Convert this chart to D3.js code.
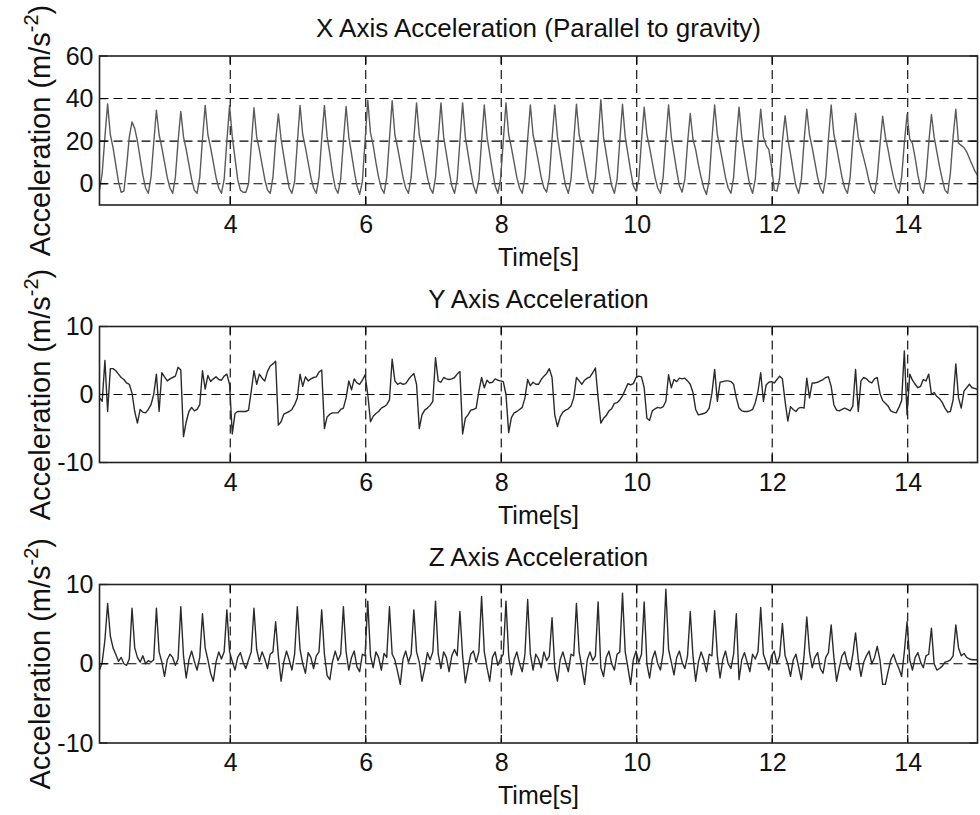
<!DOCTYPE html>
<html>
<head>
<meta charset="utf-8">
<script src="https://cdn.jsdelivr.net/npm/d3@7"></script>
<style>
  body { margin: 0; background: #fff; }
  svg text { font-family: "Liberation Sans", Arial, Helvetica, sans-serif; fill: #111; }
</style>
</head>
<body>
<svg id="chart" width="980" height="815"></svg>
<script>
// Accelerometer record sampled every 0.04 s starting at 2.07 s
const startTime = 2.07;
const sampleStep = 0.04;

// X axis (parallel to gravity), m/s^2
const xAccel = [
  -3, 5, 22, 37.5,
  23, 17, 9, 1, -4, -3.5, 8, 22, 29,
  26, 20, 12, 4, -2, -4.5, 3, 19, 34.5,
  23, 17, 10, 3, -2, -4.5, 3, 20, 34,
  22, 16, 9, 2, -3, -4.5, 3, 21, 36.8,
  23, 17, 10, 3, -2, -4.5, 2, 20, 36.8,
  22, 12, 2, -3, -4, -4, 0, 18, 35.7,
  22, 16, 9, 2, -3, -4.5, 3, 20, 32.8,
  21, 13, 5, -2, -4.5, 1, 19, 36.8,
  23, 17, 10, 3, -2, -4.5, 3, 21, 36.8,
  22, 14, 5, -2, -4.5, 2, 20, 36.3,
  22, 14, 6, -1, -5, 1, 20, 39.2,
  24, 18, 10, 3, -2, -4.5, 3, 21, 39,
  23, 17, 10, 3, -2, -4.5, 3, 21, 38,
  23, 17, 10, 3, -2, -4.5, 3, 21, 38,
  22, 14, 6, -1, -4.5, 2, 20, 38,
  22, 14, 6, -1, -4.5, 2, 20, 37,
  22, 14, 6, -1, -4.5, 2, 20, 38,
  23, 17, 10, 3, -2, -4.5, 3, 21, 37,
  23, 17, 10, 3, -2, -4, 3, 21, 37,
  22, 14, 6, -1, -4.5, 2, 20, 37.3,
  23, 17, 10, 3, -2, -4.5, 3, 21, 39.5,
  22, 14, 6, -1, -4.5, 2, 20, 37.3,
  22, 14, 6, -1, -3.5, 2, 20, 36,
  23, 17, 10, 3, -2, -4.5, 3, 21, 37,
  22, 14, 6, -1, -4, 2, 19, 33,
  21, 16, 9, 3, -2, -5, 2, 21, 37,
  23, 17, 10, 3, -2, -4.5, 3, 21, 36,
  22, 14, 6, -1, -4.5, 2, 20, 35,
  22, 18, 16, 8, -3, -3.5, 3, 20, 32,
  21, 14, 6, -1, -4.5, 2, 20, 35,
  23, 17, 10, 3, -2, -4.5, 3, 21, 37,
  23, 17, 10, 3, -2, -4.5, 3, 20, 33,
  22, 17, 12, 7, 1, -3, -4.5, 3, 18, 31.7,
  22, 16, 9, 3, -2, -4.5, 3, 19, 32.5,
  21, 19, 12, 4, -2, -4.5, 3, 19, 32.5,
  22, 15, 8, 2, -3, -4.5, 5, 22, 35,
  19, 18, 17, 15, 12, 9, 6, 4
];

// Y axis (lateral), m/s^2
const yAccel = [
  -0.5, -1.0, 5.0, -2.5, 3.8, 3.8, 3.5, 3.0, 2.5, 2.2,
  1.7, 1.5, 0.2, -2.5, -4.2, -2.2, -2.6, -2.7, -2.2, -1.5,
  0.0, 3.0, -2.5, 3.2, 2.6, 2.0, 2.3, 2.5, 2.7, 4.0,
  3.6, -6.2, -4.0, -2.5, -1.9, -2.4, -2.2, -1.5, 3.5, 0.8,
  2.8, 1.9, 2.3, 2.6, 2.2, 2.1, 2.7, 3.0, 1.5, -5.8,
  -2.8, -2.5, -2.5, -2.5, -2.5, -2.3, 0.5, 3.5, 1.5, 3.0,
  2.4, 2.0, 3.4, 4.2, 4.5, 4.9, -4.5, -4.0, -2.9, -2.7,
  -2.5, -2.2, -1.5, -0.5, 3.0, 1.2, 2.6, 2.0, 2.3, 2.5,
  2.6, 3.3, 3.6, -5.0, -3.3, -2.9, -2.7, -2.7, -2.7, -2.2,
  -2.0, -0.5, 2.0, 0.7, 2.3, 1.7, 1.5, 2.1, 2.9, 0.0,
  -4.0, -3.2, -2.8, -2.5, -2.0, -1.8, -1.5, -0.8, 5.2, 2.0,
  1.5, 1.7, 1.5, 1.6, 2.2, 2.7, 3.1, 1.5, -5.0, -3.0,
  -2.3, -2.0, -1.6, -1.0, 5.4, 2.0, 1.8, 2.5, 2.3, 2.2,
  2.3, 2.5, 3.0, 3.4, -5.8, -3.5, -3.0, -2.3, -2.2, -2.0,
  0.5, 2.5, 1.0, 2.1, 1.7, 1.8, 2.3, 2.1, 2.0, 1.9,
  0.0, -5.6, -3.4, -2.7, -2.5, -2.2, -1.9, -0.5, 2.2, 1.3,
  1.8, 1.5, 1.5, 2.2, 2.7, 3.1, 3.8, 2.5, -3.0, -4.7,
  -3.3, -2.6, -2.3, -2.1, -1.7, -0.5, 2.5, 2.0, 1.5, 2.1,
  2.4, 2.6, 3.2, 3.9, -0.5, -4.2, -3.5, -3.1, -2.4, -2.1,
  -1.3, -1.2, -0.8, -0.2, 0.7, 1.6, 1.4, 1.6, 2.5, 2.7,
  2.6, 1.0, -3.5, -3.8, -2.4, -2.1, -1.9, -2.0, -1.8, -1.0,
  2.9, 1.0, 2.2, 1.9, 2.4, 2.3, 2.4, 2.0, 1.5, 0.3,
  -2.2, -3.0, -2.9, -2.8, -2.6, -2.0, 0.2, 3.7, -1.0, 1.8,
  1.9, 2.0, 2.0, 1.9, 1.5, -0.5, -2.0, -2.4, -2.5, -2.5,
  -2.4, -2.2, -1.2, 0.5, 3.2, -1.0, 1.4, 1.8, 1.9, 1.7,
  2.2, 2.7, 2.3, -1.0, -3.9, -1.8, -2.2, -2.5, -2.0, -1.9,
  -2.0, 2.4, -0.5, 1.7, 1.7, 1.8, 2.0, 2.2, 2.5, 2.6,
  1.2, -1.5, -2.3, -2.4, -2.2, -2.0, -2.2, -2.4, -1.7, 3.7,
  -2.5, 2.0, 2.5, 2.3, 1.9, 1.7, 2.3, 2.5, 0.2, -0.9,
  -1.3, -1.7, -2.4, -2.6, -2.7, -1.9, -0.9, 6.4, -3.0, 3.0,
  2.1, 1.5, 1.0, 1.2, 2.2, 2.0, 3.0, 0.0, 0.3, -0.3,
  -0.6, -1.2, -2.0, -2.6, -2.5, -0.8, 4.5, -0.5, -2.0, 0.5,
  1.0, 1.5, 1.0, 0.9, 0.7
];

// Z axis (fore-aft), m/s^2
const zAccel = [
  -0.8, 0.2, 3.0, 7.6,
  3.5, 2.0, 1.2, 0.3, 0.8, 0.0, -0.2, 0.6, 7.0,
  2.0, 0.8, 0.2, 1.0, 0.0, 0.4, 0.2, 0.5, 7.0,
  1.5, 0.2, -1.6, 0.5, 1.2, 0.8, -0.2, 0.6, 7.2,
  1.0, -1.8, 0.5, 1.6, 0.3, -0.8, 0.8, 6.3,
  2.0, 0.5, -1.2, -2.2, 0.2, 1.5, 0.6, 1.5, 6.8,
  1.5, 0.3, -0.8, 0.8, 1.4, 0.2, -0.6, 0.5, 1.5, 7.0,
  1.8, 0.3, 1.5, 0.6, -0.6, 1.2, 1.5, 5.3,
  1.0, -2.2, 0.2, 1.6, 0.5, -0.8, 1.2, 7.2,
  1.8, 0.0, -1.2, 1.4, 0.8, -0.6, 1.0, 1.5, 6.8,
  1.2, -1.5, -2.0, 0.3, 1.6, 0.4, 1.2, 7.2,
  1.5, -0.8, 0.8, 1.6, -0.4, -1.0, 1.2, 1.0, 7.9,
  1.0, -0.5, 1.5, 0.8, -0.8, 1.3, 0.8, 7.2,
  1.2, 0.5, -1.0, -2.6, 0.6, 1.6, 0.2, 1.2, 6.8,
  1.5, 0.2, -2.2, -0.6, 1.4, 0.5, 1.5, 7.9,
  1.2, -0.6, 1.5, 0.8, -1.0, 1.0, 1.8, 1.0, 6.6,
  1.0, -2.4, -0.5, 1.2, 1.6, 0.2, 1.5, 8.5,
  1.5, -0.5, -2.2, 0.8, 1.5, -0.2, 0.6, 1.2, 7.9,
  1.0, -1.4, 0.5, 1.5, 0.0, -1.0, 1.2, 8.1,
  1.2, -0.8, 1.2, 0.6, -0.5, 1.5, 0.4, 1.0, 5.8,
  -0.5, -2.2, 0.5, 1.5, 0.2, -1.0, 1.2, 1.0, 7.6,
  1.5, -0.5, -2.6, 0.5, 1.5, 0.4, 1.0, 7.8,
  -0.5, -1.6, 0.8, 1.6, 0.0, -0.8, 1.2, 1.5, 8.9,
  1.5, -0.5, -2.6, 0.5, 1.6, 0.2, 1.2, 7.8,
  0.0, -1.8, 0.6, 1.6, 0.0, -0.8, 1.4, 9.4,
  1.8, 0.2, -1.4, 0.8, 1.6, 0.2, -0.6, 1.0, 6.6,
  1.0, -2.2, 0.2, 1.5, 0.5, -1.0, 1.2, 1.0, 6.7,
  1.0, -1.8, 0.5, 1.6, 0.0, -0.6, 1.2, 6.3,
  -2.0, 0.5, 1.4, 0.2, -1.0, 1.2, 0.6, 1.5, 7.1,
  1.2, 0.2, -0.8, 1.0, 1.6, 0.0, 1.0, 5.1,
  1.0, 0.0, -1.6, 0.5, 1.2, -0.4, -2.0, 1.0, 5.9,
  1.5, -0.5, 0.8, 1.4, -0.6, -1.2, 0.8, 1.4, 4.9,
  0.8, -2.2, -0.5, 1.0, 1.5, 0.0, -0.8, 1.2, 3.9,
  0.5, -1.6, 0.2, 1.0, 1.6, 0.0, 0.8, 2.2,
  0.5, -2.6, -2.6, -1.0, 0.5, 1.2, 0.2, -0.6, -1.6, 1.5, 5.3,
  0.5, -0.8, 0.8, 1.4, 0.2, -0.5, 1.0, 1.2, 4.5,
  0.0, -0.8, -0.6, -0.3, 0.2, 0.3, 0.5, 1.0, 4.9,
  2.0, 1.0, 1.3, 0.8, 0.6, 0.5, 0.5, 0.5
];

const panelTitles = [
  "X Axis Acceleration (Parallel to gravity)",
  "Y Axis Acceleration",
  "Z Axis Acceleration"
];
const panelSeries = [xAccel, yAccel, zAccel];
const traceColors = ["#5a5a5a", "#2a2a2a", "#2a2a2a"];
const valueDomains = [[-10, 60], [-10, 10], [-10, 10]];
const valueTicks = [[0, 20, 40, 60], [-10, 0, 10], [-10, 0, 10]];
const timeTicks = [4, 6, 8, 10, 12, 14];
const timeLabel = "Time[s]";

// layout
const plotLeft = 99.5, plotRight = 977.5;
const panelBands = [[56, 205], [326.5, 462.5], [584.5, 743]];
const fontMain = 25;

const svg = d3.select("#chart");
const timeEnd = startTime + (xAccel.length - 1) * sampleStep;
const x = d3.scaleLinear().domain([startTime, timeEnd]).range([plotLeft, plotRight]);
const plainNumber = d => String(d);   // ASCII hyphen for negatives

panelSeries.forEach((values, p) => {
  const [top, bottom] = panelBands[p];
  const y = d3.scaleLinear().domain(valueDomains[p]).range([bottom, top]);
  const g = svg.append("g");

  const clipId = "clip" + p;
  svg.append("clipPath").attr("id", clipId)
    .append("rect").attr("x", plotLeft).attr("y", top)
    .attr("width", plotRight - plotLeft).attr("height", bottom - top);

  // dashed grid
  const [v0, v1] = valueDomains[p];
  g.append("g").selectAll("line")
    .data(valueTicks[p].filter(v => v > v0 && v < v1))
    .join("line")
    .attr("x1", plotLeft).attr("x2", plotRight)
    .attr("y1", d => y(d)).attr("y2", d => y(d))
    .attr("stroke", "#000").attr("stroke-width", 1.1)
    .attr("stroke-dasharray", "9,5");
  g.append("g").selectAll("line")
    .data(timeTicks)
    .join("line")
    .attr("x1", d => x(d)).attr("x2", d => x(d))
    .attr("y1", top).attr("y2", bottom)
    .attr("stroke", "#000").attr("stroke-width", 1.1)
    .attr("stroke-dasharray", "9,5");

  // signal trace
  const line = d3.line()
    .x((d, i) => x(startTime + i * sampleStep))
    .y(d => y(d));
  g.append("path")
    .datum(values)
    .attr("clip-path", `url(#${clipId})`)
    .attr("fill", "none")
    .attr("stroke", traceColors[p])
    .attr("stroke-width", 1.4)
    .attr("stroke-linejoin", "round")
    .attr("d", line);

  // inward tick marks on all four sides
  const tickLen = 8;
  const tickStyle = sel => sel.attr("stroke", "#000").attr("stroke-width", 1.2);
  g.append("g").selectAll("line").data(timeTicks).join("line")
    .attr("x1", d => x(d)).attr("x2", d => x(d))
    .attr("y1", bottom).attr("y2", bottom - tickLen).call(tickStyle);
  g.append("g").selectAll("line").data(timeTicks).join("line")
    .attr("x1", d => x(d)).attr("x2", d => x(d))
    .attr("y1", top).attr("y2", top + tickLen).call(tickStyle);
  g.append("g").selectAll("line").data(valueTicks[p]).join("line")
    .attr("x1", plotLeft).attr("x2", plotLeft + tickLen)
    .attr("y1", d => y(d)).attr("y2", d => y(d)).call(tickStyle);
  g.append("g").selectAll("line").data(valueTicks[p]).join("line")
    .attr("x1", plotRight).attr("x2", plotRight - tickLen)
    .attr("y1", d => y(d)).attr("y2", d => y(d)).call(tickStyle);

  // frame
  g.append("rect")
    .attr("x", plotLeft).attr("y", top)
    .attr("width", plotRight - plotLeft).attr("height", bottom - top)
    .attr("fill", "none").attr("stroke", "#222").attr("stroke-width", 1.6);

  // axes (labels only)
  const xAxis = d3.axisBottom(x).tickValues(timeTicks).tickSize(0).tickPadding(0)
    .tickFormat(plainNumber);
  const xa = g.append("g").attr("transform", `translate(0,${bottom})`).call(xAxis);
  xa.select(".domain").remove();
  xa.selectAll("text").attr("font-size", fontMain).attr("dy", null).attr("y", 28)
    .attr("fill", "#111");

  const yAxis = d3.axisLeft(y).tickValues(valueTicks[p]).tickSize(0).tickPadding(6)
    .tickFormat(plainNumber);
  const ya = g.append("g").attr("transform", `translate(${plotLeft},0)`).call(yAxis);
  ya.select(".domain").remove();
  ya.selectAll("text").attr("font-size", fontMain).attr("fill", "#111");
  svg.selectAll(".tick text").attr("font-family", null);

  // x label
  g.append("text")
    .attr("x", (plotLeft + plotRight) / 2).attr("y", bottom + 61)
    .attr("text-anchor", "middle").attr("font-size", fontMain)
    .text(timeLabel);

  // title
  g.append("text")
    .attr("x", (plotLeft + plotRight) / 2).attr("y", top - 19)
    .attr("text-anchor", "middle").attr("font-size", 26)
    .text(panelTitles[p]);

  // y label with superscript unit
  const yl = g.append("text")
    .attr("transform", `translate(50,${(top + bottom) / 2}) rotate(-90)`)
    .attr("text-anchor", "middle").attr("font-size", 29);
  yl.append("tspan").text("Acceleration (m/s");
  yl.append("tspan").attr("dy", -12).attr("font-size", 20).text("-2");
  yl.append("tspan").attr("dy", 12).text(")");
});
</script>
</body>
</html>
